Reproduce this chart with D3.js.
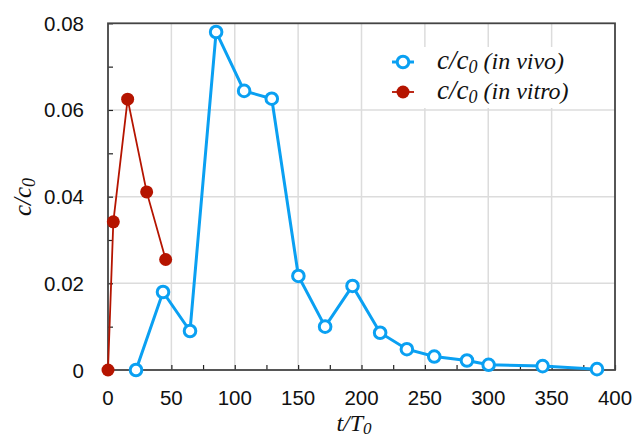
<!DOCTYPE html>
<html><head><meta charset="utf-8">
<script src="https://cdn.jsdelivr.net/npm/d3@7"></script>
<style>body{margin:0;background:#fff}svg{display:block}</style>
</head><body><svg id="c" width="635" height="439"></svg>
<script>
const vivoT = [22.1, 43.4, 64.7, 85.3, 107.4, 129.2, 150.2, 171.3, 192.9, 214.7, 235.8, 257.4, 283.2, 300.3, 342.9, 385.8];
const vivoC = [0, 0.0180, 0.0090, 0.0780, 0.0644, 0.0626, 0.0217, 0.0100, 0.0194, 0.0086, 0.0048, 0.0031, 0.0022, 0.0012, 0.0009, 0.0002];
const vitroT = [0, 4.2, 15.5, 30.5, 45.5];
const vitroC = [0, 0.0342, 0.0625, 0.0411, 0.0255];
const xTicks = [0, 50, 100, 150, 200, 250, 300, 350, 400];
const yTicks = [0, 0.02, 0.04, 0.06, 0.08];
const seriesNames = ["in vivo", "in vitro"];

const blue = "#0aa0f2", red = "#b51400";
const svg = d3.select("#c");
const L = 108, R = 615, T = 23.3, B = 370;
const x = d3.scaleLinear().domain([0, 400]).range([L, R]);
const y = d3.scaleLinear().domain([0, 0.08]).range([B, T]);

// grid
const g = svg.append("g");
g.selectAll(".vg").data(xTicks.slice(1, -1)).join("line")
  .attr("x1", d => x(d)).attr("x2", d => x(d)).attr("y1", T).attr("y2", B)
  .attr("stroke", "#dcdcdc").attr("stroke-width", 1.5);
g.selectAll(".hg").data(yTicks.slice(1, -1)).join("line")
  .attr("x1", L).attr("x2", R).attr("y1", d => y(d)).attr("y2", d => y(d))
  .attr("stroke", "#dcdcdc").attr("stroke-width", 1.5);

// legend background
svg.append("rect").attr("x", 385).attr("y", 47).attr("width", 215).attr("height", 61).attr("fill", "#fff");

// axes (ticks inward)
const xAx = d3.axisBottom(x).tickValues(d3.range(0, 401, 25)).tickSize(-5).tickFormat(() => "");
svg.append("g").attr("transform", `translate(0,${B})`).call(xAx)
  .call(a => a.select(".domain").remove())
  .call(a => a.selectAll("line").attr("stroke", "#222").attr("stroke-width", 1.2));
const yAx = d3.axisLeft(y).tickValues(d3.range(0, 0.0801, 0.01)).tickSize(-5).tickFormat(() => "");
svg.append("g").attr("transform", `translate(${L},0)`).call(yAx)
  .call(a => a.select(".domain").remove())
  .call(a => a.selectAll("line").attr("stroke", "#222").attr("stroke-width", 1.2));

// frame
svg.append("rect").attr("x", L).attr("y", T).attr("width", R - L).attr("height", B - T)
  .attr("fill", "none").attr("stroke", "#444").attr("stroke-width", 1.8);

// tick labels
const fnt = "'Liberation Sans', Arial, sans-serif";
svg.append("g").selectAll("text").data(xTicks).join("text")
  .attr("x", d => x(d)).attr("y", 405).attr("text-anchor", "middle")
  .attr("font-family", fnt).attr("font-size", 20.5).attr("fill", "#111")
  .text(d => d);
svg.append("g").selectAll("text").data(yTicks).join("text")
  .attr("x", 84).attr("y", d => y(d) + 7.5).attr("text-anchor", "end")
  .attr("font-family", fnt).attr("font-size", 20.5).attr("fill", "#111")
  .text(d => d === 0 ? "0" : d.toFixed(2));

// axis titles
const serif = "'Liberation Serif', 'Times New Roman', serif";
const yl = svg.append("text").attr("transform", "translate(31,197) rotate(-90)")
  .attr("text-anchor", "middle").attr("font-family", serif).attr("font-style", "italic")
  .attr("font-size", 25).attr("fill", "#111");
yl.append("tspan").text("c/c");
yl.append("tspan").attr("dy", 4).attr("font-size", 18).text("0");
const xl = svg.append("text").attr("x", 354).attr("y", 431)
  .attr("text-anchor", "middle").attr("font-family", serif).attr("font-style", "italic")
  .attr("font-size", 24).attr("fill", "#111");
xl.append("tspan").text("t/T");
xl.append("tspan").attr("dy", 3).attr("font-size", 17).text("0");

// series
const line = d3.line().x(d => x(d[0])).y(d => y(d[1]));
const vivo = vivoT.map((t, i) => [t, vivoC[i]]);
const vitro = vitroT.map((t, i) => [t, vitroC[i]]);

svg.append("path").datum(vitro).attr("d", line).attr("fill", "none")
  .attr("stroke", red).attr("stroke-width", 1.8);
svg.append("path").datum(vivo).attr("d", line).attr("fill", "none")
  .attr("stroke", blue).attr("stroke-width", 3);
svg.append("g").selectAll("circle").data(vitro).join("circle")
  .attr("cx", d => x(d[0])).attr("cy", d => y(d[1])).attr("r", 6.5).attr("fill", red);
svg.append("g").selectAll("circle").data(vivo).join("circle")
  .attr("cx", d => x(d[0])).attr("cy", d => y(d[1])).attr("r", 5.8)
  .attr("fill", "#fff").attr("stroke", blue).attr("stroke-width", 3);

// legend
const leg = [[seriesNames[0], blue, true], [seriesNames[1], red, false]];
leg.forEach(([name, col, open], i) => {
  const cy = 62 + i * 30;
  svg.append("line").attr("x1", 392).attr("x2", 414).attr("y1", cy).attr("y2", cy)
    .attr("stroke", col).attr("stroke-width", open ? 3 : 1.8);
  svg.append("circle").attr("cx", 403).attr("cy", cy).attr("r", open ? 5.8 : 6.5)
    .attr("fill", open ? "#fff" : col).attr("stroke", open ? col : "none").attr("stroke-width", 3);
  const t = svg.append("text").attr("x", 437).attr("y", cy + 7)
    .attr("font-family", serif).attr("font-style", "italic").attr("font-size", 24).attr("fill", "#111");
  t.append("tspan").attr("font-size", 27).text("c/c");
  t.append("tspan").attr("dy", 4).attr("font-size", 18).text("0");
  t.append("tspan").attr("dy", -4).text(" (" + name + ")");
});
</script></body></html>
